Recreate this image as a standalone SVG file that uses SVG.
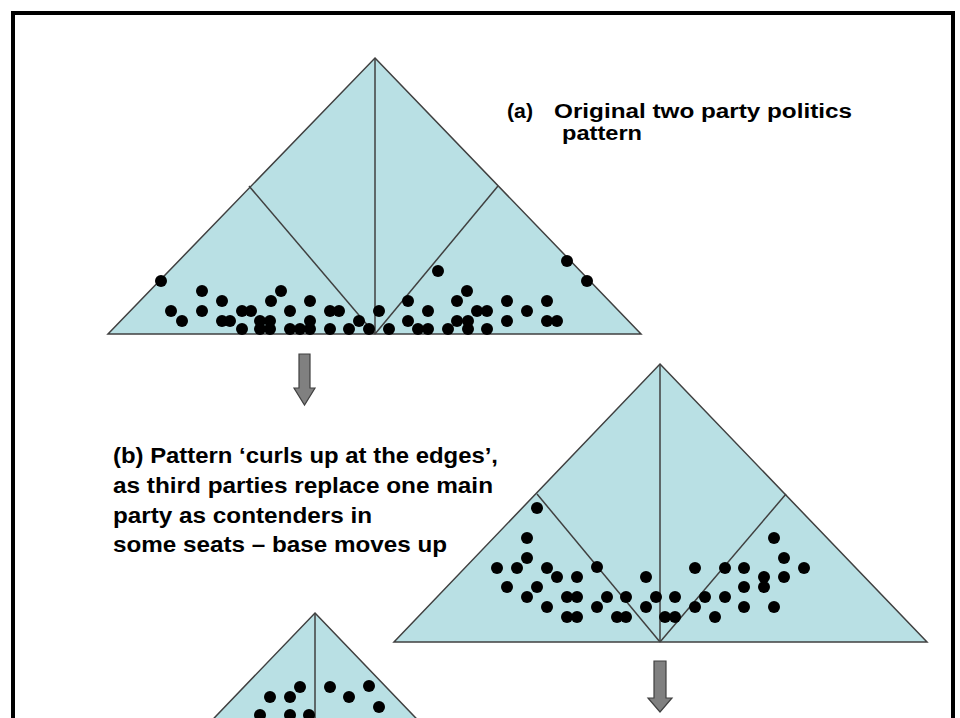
<svg xmlns="http://www.w3.org/2000/svg" width="960" height="718" viewBox="0 0 960 718">
<style>
.tri{fill:#b9e0e4;stroke:#404040;stroke-width:1.5;stroke-linejoin:miter}
.ln{stroke:#404040;stroke-width:1.5;fill:none}
.d{fill:#000}
.arr{fill:#808080;stroke:#404040;stroke-width:1.2}
.t{font-family:"Liberation Sans",Arial,sans-serif;font-weight:bold;fill:#000}
</style>
<rect width="960" height="718" fill="#fff"/>
<rect id="frame" x="13" y="13" width="940" height="760" fill="none" stroke="#000" stroke-width="4"/>

<g id="triangle-a">
<polygon class="tri" points="375,58 641,334 108,334"/>
<line class="ln" x1="375" y1="58" x2="375" y2="334"/>
<line class="ln" x1="249" y1="186" x2="375" y2="334"/>
<line class="ln" x1="498" y1="186" x2="375" y2="334"/>
<g class="d">
<circle cx="161" cy="281" r="6"/><circle cx="202" cy="291" r="6"/><circle cx="281" cy="291" r="6"/>
<circle cx="171" cy="311" r="6"/><circle cx="182" cy="321" r="6"/><circle cx="202" cy="311" r="6"/>
<circle cx="222" cy="301" r="6"/><circle cx="222" cy="321" r="6"/><circle cx="230" cy="321" r="6"/>
<circle cx="242" cy="311" r="6"/><circle cx="251" cy="311" r="6"/><circle cx="242" cy="329" r="6"/>
<circle cx="260" cy="321" r="6"/><circle cx="270" cy="321" r="6"/><circle cx="260" cy="329" r="6"/>
<circle cx="270" cy="329" r="6"/><circle cx="271" cy="301" r="6"/><circle cx="290" cy="311" r="6"/>
<circle cx="290" cy="329" r="6"/><circle cx="300" cy="329" r="6"/><circle cx="310" cy="301" r="6"/>
<circle cx="310" cy="321" r="6"/><circle cx="310" cy="329" r="6"/><circle cx="330" cy="311" r="6"/>
<circle cx="339" cy="311" r="6"/><circle cx="330" cy="329" r="6"/><circle cx="349" cy="329" r="6"/>
<circle cx="359" cy="321" r="6"/><circle cx="369" cy="329" r="6"/><circle cx="379" cy="311" r="6"/>
<circle cx="567" cy="261" r="6"/><circle cx="587" cy="281" r="6"/><circle cx="438" cy="271" r="6"/>
<circle cx="467" cy="291" r="6"/><circle cx="408" cy="301" r="6"/><circle cx="457" cy="301" r="6"/>
<circle cx="507" cy="301" r="6"/><circle cx="547" cy="301" r="6"/><circle cx="428" cy="311" r="6"/>
<circle cx="477" cy="311" r="6"/><circle cx="487" cy="311" r="6"/><circle cx="527" cy="311" r="6"/>
<circle cx="408" cy="321" r="6"/><circle cx="457" cy="321" r="6"/><circle cx="468" cy="321" r="6"/>
<circle cx="507" cy="321" r="6"/><circle cx="547" cy="321" r="6"/><circle cx="557" cy="321" r="6"/>
<circle cx="389" cy="329" r="6"/><circle cx="418" cy="329" r="6"/><circle cx="428" cy="329" r="6"/>
<circle cx="448" cy="329" r="6"/><circle cx="468" cy="329" r="6"/><circle cx="487" cy="329" r="6"/>
</g>
</g>

<g id="triangle-b">
<polygon class="tri" points="660,364 927,642 394,642"/>
<line class="ln" x1="660" y1="364" x2="660" y2="642"/>
<line class="ln" x1="537" y1="494" x2="660" y2="642"/>
<line class="ln" x1="786" y1="494" x2="660" y2="642"/>
<g class="d">
<circle cx="537" cy="508" r="6"/><circle cx="527" cy="538" r="6"/><circle cx="527" cy="558" r="6"/>
<circle cx="497" cy="568" r="6"/><circle cx="517" cy="568" r="6"/><circle cx="547" cy="568" r="6"/>
<circle cx="557" cy="577" r="6"/><circle cx="577" cy="577" r="6"/><circle cx="597" cy="567" r="6"/>
<circle cx="507" cy="587" r="6"/><circle cx="537" cy="587" r="6"/><circle cx="527" cy="597" r="6"/>
<circle cx="567" cy="597" r="6"/><circle cx="577" cy="597" r="6"/><circle cx="607" cy="597" r="6"/>
<circle cx="626" cy="597" r="6"/><circle cx="547" cy="607" r="6"/><circle cx="597" cy="607" r="6"/>
<circle cx="567" cy="617" r="6"/><circle cx="577" cy="617" r="6"/><circle cx="617" cy="617" r="6"/>
<circle cx="626" cy="617" r="6"/><circle cx="646" cy="577" r="6"/><circle cx="656" cy="597" r="6"/>
<circle cx="646" cy="607" r="6"/><circle cx="665" cy="617" r="6"/>
<circle cx="774" cy="538" r="6"/><circle cx="784" cy="558" r="6"/><circle cx="804" cy="568" r="6"/>
<circle cx="695" cy="568" r="6"/><circle cx="725" cy="568" r="6"/><circle cx="744" cy="568" r="6"/>
<circle cx="764" cy="577" r="6"/><circle cx="784" cy="577" r="6"/><circle cx="744" cy="587" r="6"/>
<circle cx="764" cy="587" r="6"/><circle cx="675" cy="597" r="6"/><circle cx="705" cy="597" r="6"/>
<circle cx="725" cy="597" r="6"/><circle cx="695" cy="607" r="6"/><circle cx="744" cy="607" r="6"/>
<circle cx="774" cy="607" r="6"/><circle cx="675" cy="617" r="6"/><circle cx="715" cy="617" r="6"/>
</g>
</g>

<g id="triangle-c">
<polygon class="tri" points="315,613 581,890 49,890"/>
<line class="ln" x1="315" y1="613" x2="315" y2="890"/>
<g class="d">
<circle cx="270" cy="697" r="6"/><circle cx="290" cy="697" r="6"/><circle cx="300" cy="687" r="6"/>
<circle cx="330" cy="687" r="6"/><circle cx="349" cy="697" r="6"/><circle cx="369" cy="686" r="6"/>
<circle cx="379" cy="707" r="6"/><circle cx="260" cy="715" r="6"/><circle cx="290" cy="715" r="6"/>
<circle cx="309" cy="715" r="6"/>
</g>
</g>

<g id="connectors">
<path class="arr" d="M299,354 H310 V388 H315 L304.5,405 L294,388 H299 Z"/>
<path class="arr" d="M654,661 H666 V698 H672 L660,712 L648,698 H654 Z"/>
</g>

<g id="label-a">
<text class="t" x="507" y="118" font-size="20" textLength="26" lengthAdjust="spacingAndGlyphs">(a)</text>
<text class="t" x="554" y="118" font-size="20" textLength="298" lengthAdjust="spacingAndGlyphs">Original two party politics</text>
<text class="t" x="562" y="140" font-size="20" textLength="80" lengthAdjust="spacingAndGlyphs">pattern</text>
</g>

<g id="label-b">
<text class="t" x="113" y="463" font-size="22" textLength="385" lengthAdjust="spacingAndGlyphs">(b) Pattern ‘curls up at the edges’,</text>
<text class="t" x="113" y="493" font-size="22" textLength="380" lengthAdjust="spacingAndGlyphs">as third parties replace one main</text>
<text class="t" x="113" y="523" font-size="22" textLength="259" lengthAdjust="spacingAndGlyphs">party as contenders in</text>
<text class="t" x="113" y="552" font-size="22" textLength="334" lengthAdjust="spacingAndGlyphs">some seats – base moves up</text>
</g>
</svg>
